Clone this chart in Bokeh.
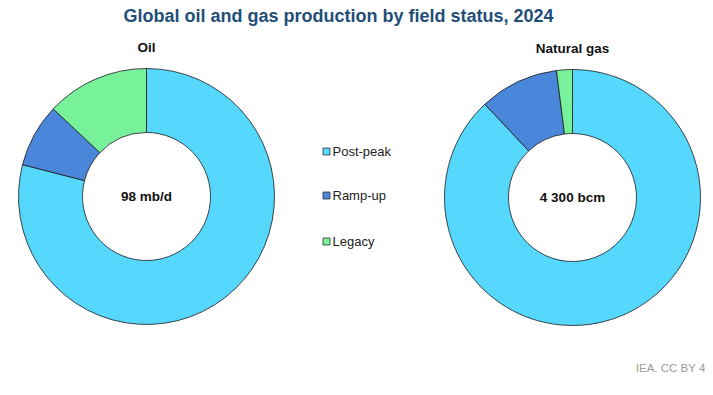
import math
from bokeh.plotting import figure
from bokeh.models import Range1d, ColumnDataSource
from bokeh.core.properties import value
from bokeh.embed import file_html
from bokeh.resources import INLINE

# ---- data ----
categories = ["Post-peak", "Ramp-up", "Legacy"]
colors = ["#55D7FE", "#4A86DA", "#78F29A"]
oil_shares = [79, 8, 13]
gas_shares = [88, 10, 2]
chart_titles = ["Oil", "Natural gas"]
center_labels = ["98 mb/d", "4 300 bcm"]
title_text = "Global oil and gas production by field status, 2024"
source_text = "IEA. CC BY 4"

W, H = 705, 379
FONT = "Liberation Sans"

p = figure(width=W, height=H, output_backend="svg", toolbar_location=None,
           x_range=Range1d(0, W), y_range=Range1d(0, H), min_border=0)
p.axis.visible = False
p.xgrid.visible = False
p.ygrid.visible = False
p.outline_line_color = None
p.background_fill_color = "white"
p.border_fill_color = "white"


def donut(shares, cx, cy, label, center_label):
    total = float(sum(shares))
    starts, ends = [], []
    c = 0.0
    for s in shares:
        c0 = c / total
        c += s
        c1 = c / total
        starts.append(math.pi / 2 - 2 * math.pi * c1)
        ends.append(math.pi / 2 - 2 * math.pi * c0)
    src = ColumnDataSource(dict(start=starts, end=ends, color=colors,
                                cat=categories))
    p.annular_wedge(x=cx, y=cy, inner_radius=64, outer_radius=128,
                    inner_radius_units="screen", outer_radius_units="screen",
                    start_angle="start", end_angle="end", fill_color="color",
                    line_color="#1a1a1a", line_width=0.8, source=src)
    p.text(x=[cx], y=[cy], text=[center_label], text_font=value(FONT),
           text_font_size="13.5px", text_font_style="bold", text_color="#111111",
           text_align="center", text_baseline="middle")
    p.text(x=[cx], y=[cy + 149], text=[label], text_font=value(FONT),
           text_font_size="13.5px", text_font_style="bold", text_color="#111111",
           text_align="center", text_baseline="middle")


donut(oil_shares, 146, 183, chart_titles[0], center_labels[0])
donut(gas_shares, 572, 182, chart_titles[1], center_labels[1])

# legend
leg_y = [228, 184, 138]
p.scatter(x=[326] * 3, y=leg_y, marker="square", size=7, fill_color=colors,
          line_color="#333333", line_width=0.8)
p.text(x=[332] * 3, y=leg_y, text=categories, text_font=value(FONT),
       text_font_size="13px", text_color="#222222", text_align="left",
       text_baseline="middle")

# title
p.text(x=[338], y=[364], text=[title_text], text_font=value(FONT),
       text_font_size="18px", text_font_style="bold", text_color="#1F4E79",
       text_align="center", text_baseline="middle")

# source
p.text(x=[705], y=[12], text=[source_text], text_font=value(FONT),
       text_font_size="11.5px", text_color="#9a9a9a", text_align="right",
       text_baseline="middle")

open("out.html", "w").write(file_html(p, INLINE))
